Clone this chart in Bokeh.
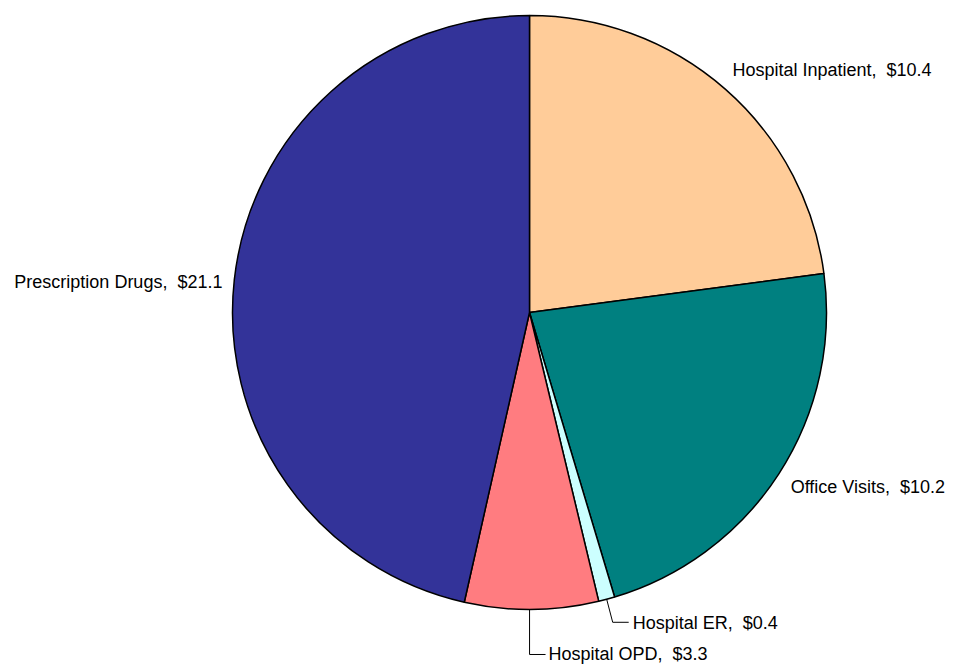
import numpy as np
from bokeh.plotting import figure
from bokeh.models import Range1d, ColumnDataSource
from bokeh.core.properties import value
from bokeh.embed import file_html
from bokeh.resources import INLINE

categories = ["Hospital Inpatient", "Office Visits", "Hospital ER", "Hospital OPD", "Prescription Drugs"]
values = [10.4, 10.2, 0.4, 3.3, 21.1]
colors = ["#FFCC99", "#008080", "#CCFFFF", "#FF7C80", "#333399"]

W, H = 954, 664
# data coordinates = picture pixel coords (x), and H - picture y (y)
p = figure(width=W, height=H, output_backend="svg", toolbar_location=None,
           x_range=Range1d(0, W), y_range=Range1d(0, H),
           min_border=0, outline_line_color=None)
p.axis.visible = False
p.grid.visible = False
p.background_fill_color = "white"

cx, cy, r = 529, H - 312, 297
vals = np.array(values)
frac = vals / vals.sum() * 2 * np.pi
ends = np.cumsum(frac)
starts = ends - frac
src = ColumnDataSource(dict(
    start=np.pi / 2 - starts, end=np.pi / 2 - ends, color=colors, cat=categories))
p.wedge(x=cx, y=cy, radius=r, start_angle="start", end_angle="end", direction="clock",
        fill_color="color", line_color="black", line_width=1.5, source=src)

mids = (starts + ends) / 2  # clockwise from top
font = value("Liberation Sans")
FS = "18px"
labels = [f"{c},\u00a0 ${v}" for c, v in zip(categories, values)]

def pt(a, rad):
    return cx + rad * np.sin(a), cy + rad * np.cos(a)

# big slices: labels along the mid-angle ray, with small nudges
R = 317
nudges = {0: (-6, 4), 1: (-5, -2), 4: (8, -5)}
for i, (dx, dy) in nudges.items():
    x, y = pt(mids[i], R)
    align = "left" if np.sin(mids[i]) > 0 else "right"
    p.text(x=[x + dx], y=[y + dy], text=[labels[i]], text_font=font,
           text_font_size=FS, text_align=align, text_baseline="middle", text_color="black")

# small slices: leader lines
# Hospital ER
ex, ey = pt(mids[2], r)
p.line(x=[ex, ex + 6, ex + 22], y=[ey, ey - 23, ey - 23], line_color="black", line_width=1)
p.text(x=[ex + 26], y=[ey - 24], text=[labels[2]], text_font=font, text_font_size=FS,
       text_align="left", text_baseline="middle", text_color="black")
# Hospital OPD
ox, oy = pt(mids[3], r)
p.line(x=[ox - 2, ox - 2, ox + 14], y=[oy, oy - 45, oy - 45], line_color="black", line_width=1)
p.text(x=[ox + 17], y=[oy - 45], text=[labels[3]], text_font=font, text_font_size=FS,
       text_align="left", text_baseline="middle", text_color="black")

open("out.html", "w").write(file_html(p, INLINE))
